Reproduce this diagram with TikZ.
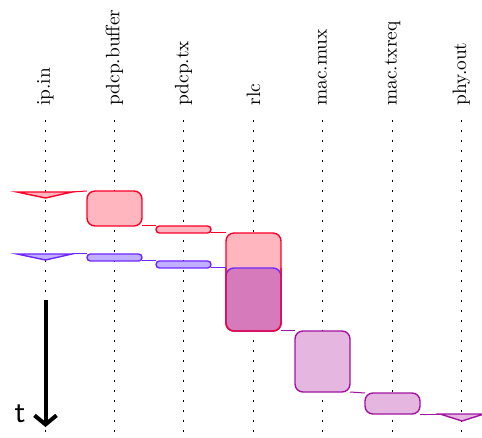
\documentclass[tikz,border=0pt]{standalone}
\usepackage{tikz}
\usetikzlibrary{arrows.meta}

\definecolor{pktred}{RGB}{250,0,40}
\definecolor{pktredfill}{RGB}{255,182,190}
\definecolor{pktblue}{RGB}{110,40,255}
\definecolor{pktbluefill}{RGB}{192,176,255}
\definecolor{pktmixfill}{RGB}{214,122,188}
\definecolor{pktpurple}{RGB}{160,20,160}
\definecolor{pktpurplefill}{RGB}{228,182,224}

\begin{document}
\begin{tikzpicture}[x=0.5pt,y=-0.5pt,
  blk/.style={draw,line width=0.7pt,rounded corners=4pt,inner sep=0pt,outer sep=0pt,minimum width=27.5pt},
  pill/.style={blk,rounded corners=1.7pt,minimum height=3.5pt},
  redpkt/.style={draw=pktred,fill=pktredfill},
  bluepkt/.style={draw=pktblue,fill=pktbluefill},
  mixpkt/.style={draw=pktblue,fill=pktmixfill},
  purplepkt/.style={draw=pktpurple,fill=pktpurplefill},
  link/.style={line width=0.5pt},
  lane/.style={dash pattern=on 1.1pt off 3.9pt,line width=0.65pt},
  lanelabel/.style={rotate=90,anchor=west,inner sep=0pt,font=\fontsize{9.7}{11}\selectfont}]
\useasboundingbox (0,0) rectangle (482,438);

% layers, one lane each
\foreach \name/\x in {ip.in/45.5,pdcp.buffer/114.5,pdcp.tx/183.5,rlc/253.5,mac.mux/322.5,mac.txreq/392.5,phy.out/461.5}{
  \node[lanelabel] (lbl\name) at (\x,106) {\name};
  \draw[lane] (\x,120) -- (\x,438);
}

% first packet
\coordinate (ipRedL) at (17,192);
\coordinate (ipRedR) at (72,192);
\filldraw[redpkt,line width=0.7pt] (ipRedL) -- (ipRedR) -- (45.5,198) -- cycle;
\node[blk,redpkt,minimum height=17.5pt] (buf1) at (114.5,208.5) {};
\node[pill,redpkt] (tx1) at (183.5,229.5) {};
\node[blk,redpkt,minimum height=49pt] (rlc1) at (253.5,282) {};

% second packet
\coordinate (ipBlueL) at (17,254);
\coordinate (ipBlueR) at (72,254);
\filldraw[bluepkt,line width=0.7pt] (ipBlueL) -- (ipBlueR) -- (45.5,260) -- cycle;
\node[pill,bluepkt] (buf2) at (114.5,257.5) {};
\node[pill,bluepkt] (tx2) at (183.5,264.5) {};
\node[blk,mixpkt,minimum height=31.5pt] (rlc2) at (253.5,299.5) {};
\draw[pktred,line width=0.7pt,rounded corners=4pt] (rlc2.north west) |- (rlc2.south east) -- (rlc2.north east);

% joint pdu
\node[blk,purplepkt,minimum height=30.5pt] (mux) at (322.5,361.5) {};
\node[blk,purplepkt,minimum height=10.5pt] (txreq) at (392.5,403.5) {};
\coordinate (phyL) at (440,414);
\coordinate (phyR) at (484,414);
\filldraw[purplepkt,line width=0.7pt] (phyL) -- (phyR) -- (462,421) -- cycle;

\draw[link,pktred] (ipRedR) -- (buf1.north west);
\draw[link,pktred] (buf1.south east) -- (tx1.north west);
\draw[link,pktred] (tx1.south east) -- (rlc1.north west);
\draw[link,pktblue] (ipBlueR) -- (buf2.north west);
\draw[link,pktblue] (buf2.south east) -- (tx2.north west);
\draw[link,pktblue] (tx2.south east) -- (rlc2.north west);
\draw[link,pktpurple] (rlc2.south east) -- (mux.north west);
\draw[link,pktpurple] (mux.south east) -- (txreq.north west);
\draw[link,pktpurple] (txreq.south east) -- (phyL);

% time
\coordinate (tTop) at (45.5,300);
\coordinate (tEnd) at (45.5,427);
\draw[line width=2pt,-{Straight Barb[length=4.5pt,width=11pt]}] (tTop) -- (tEnd);
\node[font=\fontsize{16}{18}\sffamily] (tlabel) at (20,414) {t};
\end{tikzpicture}
\end{document}
